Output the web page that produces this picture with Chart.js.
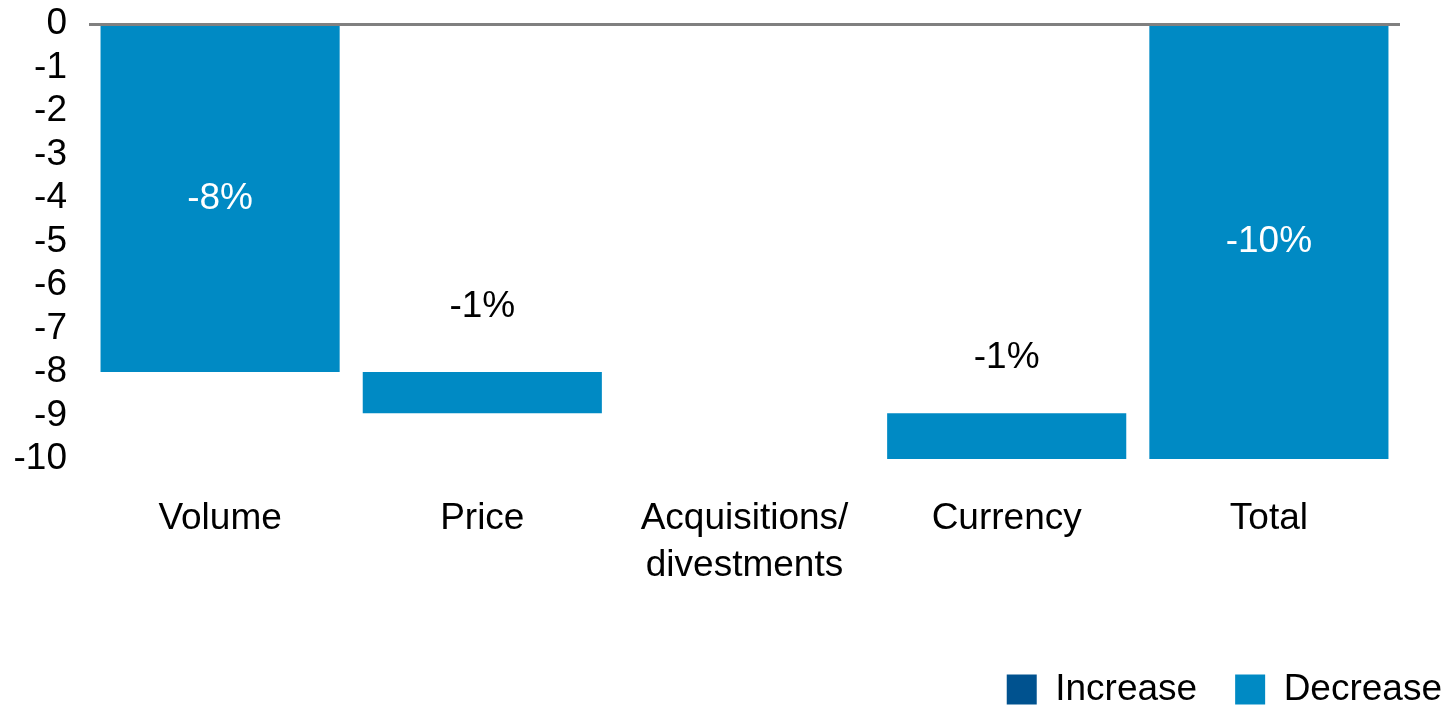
<!DOCTYPE html>
<html>
<head>
<meta charset="utf-8">
<script src="https://cdn.jsdelivr.net/npm/chart.js@4.4.1/dist/chart.umd.min.js"></script>
<style>
  html, body { margin: 0; padding: 0; background: #fff; overflow: hidden; }
  #wrap { width: 1445px; height: 709px; position: relative; }
</style>
</head>
<body>
<div id="wrap"><canvas id="bridgeChart"></canvas></div>
<script>
// categories and waterfall steps (start -> end of each floating bar)
const categories = [["Volume"], ["Price"], ["Acquisitions/", "divestments"], ["Currency"], ["Total"]];
const barStarts = [0, -8, null, -8.95, 0];
const barEnds = [-8, -8.95, null, -10, -10];
const valueLabels = ["-8%", "-1%", "", "-1%", "-10%"];
const increaseValues = [null, null, null, null, null];
const yTicks = [0, -1, -2, -3, -4, -5, -6, -7, -8, -9, -10];

const FONT = "'Liberation Sans', Arial, Helvetica, sans-serif";
const FONT_SIZE = 37;
const DARK_BLUE = "#00528f";
const LIGHT_BLUE = "#008ac4";

// where the value text goes: inside the bar, or this many px above its top
const labelPlace = ["inside", 65, null, 56, "inside"];
const labelColor = ["#fff", "#000", "#000", "#000", "#fff"];

const decreaseData = barStarts.map((s, i) => (s === null ? null : [s, barEnds[i]]));

const valueLabelPlugin = {
  id: "valueLabels",
  afterDatasetsDraw(chart){
    const meta = chart.getDatasetMeta(1);
    const ctx = chart.ctx;
    ctx.save();
    ctx.font = FONT_SIZE + "px " + FONT;
    ctx.textAlign = "center";
    ctx.textBaseline = "middle";
    meta.data.forEach((bar, i) => {
      if(!valueLabels[i] || decreaseData[i] === null) return;
      const top = Math.min(bar.y, bar.base);
      const bottom = Math.max(bar.y, bar.base);
      let y;
      if(labelPlace[i] === "inside"){
        y = (top + bottom) / 2;
      } else {
        y = top - labelPlace[i];
      }
      ctx.fillStyle = labelColor[i];
      ctx.fillText(valueLabels[i], bar.x, y);
    });
    ctx.restore();
  }
};

new Chart(document.getElementById("bridgeChart"), {
  type: "bar",
  data: {
    labels: categories,
    datasets: [
      {
        label: "Increase",
        data: increaseValues,
        backgroundColor: DARK_BLUE,
        grouped: false,
        categoryPercentage: 0.912,
        barPercentage: 1
      },
      {
        label: "Decrease",
        data: decreaseData,
        backgroundColor: LIGHT_BLUE,
        grouped: false,
        categoryPercentage: 0.912,
        barPercentage: 1
      }
    ]
  },
  options: {
    responsive: true,
    maintainAspectRatio: false,
    animation: false,
    layout: {
      padding: { top: 24, right: -35, bottom: -9, left: 0 }
    },
    scales: {
      x: {
        grid: { display: false },
        border: { display: false },
        ticks: {
          color: "#000",
          font: { family: FONT, size: FONT_SIZE, lineHeight: 1.27 },
          padding: 28,
          autoSkip: false,
          maxRotation: 0
        },
        afterFit(scale){ scale.height = 174; }
      },
      y: {
        min: -10,
        max: 0,
        border: { display: false },
        grid: {
          z: 1,
          drawTicks: true,
          tickLength: 22,
          tickColor: "rgba(0,0,0,0)",
          color: ctx => (ctx.tick && ctx.tick.value === 0 ? "#808080" : "rgba(0,0,0,0)"),
          lineWidth: ctx => (ctx.tick && ctx.tick.value === 0 ? 3 : 0)
        },
        afterBuildTicks(scale){
          scale.ticks = yTicks.map(v => ({ value: v }));
        },
        ticks: {
          color: "#000",
          font: { family: FONT, size: FONT_SIZE },
          padding: 0,
          autoSkip: false,
          callback: v => String(v)
        },
        afterFit(scale){ scale.width = 89; }
      },
      spacer: {
        type: "linear",
        position: "right",
        display: true,
        grid: { display: false },
        border: { display: false },
        ticks: { display: false },
        afterFit(scale){ scale.width = 80; }
      }
    },
    plugins: {
      legend: {
        position: "bottom",
        align: "end",
        labels: {
          color: "#000",
          font: { family: FONT, size: FONT_SIZE },
          boxWidth: 30,
          boxHeight: 30,
          padding: 38
        }
      },
      tooltip: { enabled: false }
    }
  },
  plugins: [valueLabelPlugin]
});
</script>
</body>
</html>
